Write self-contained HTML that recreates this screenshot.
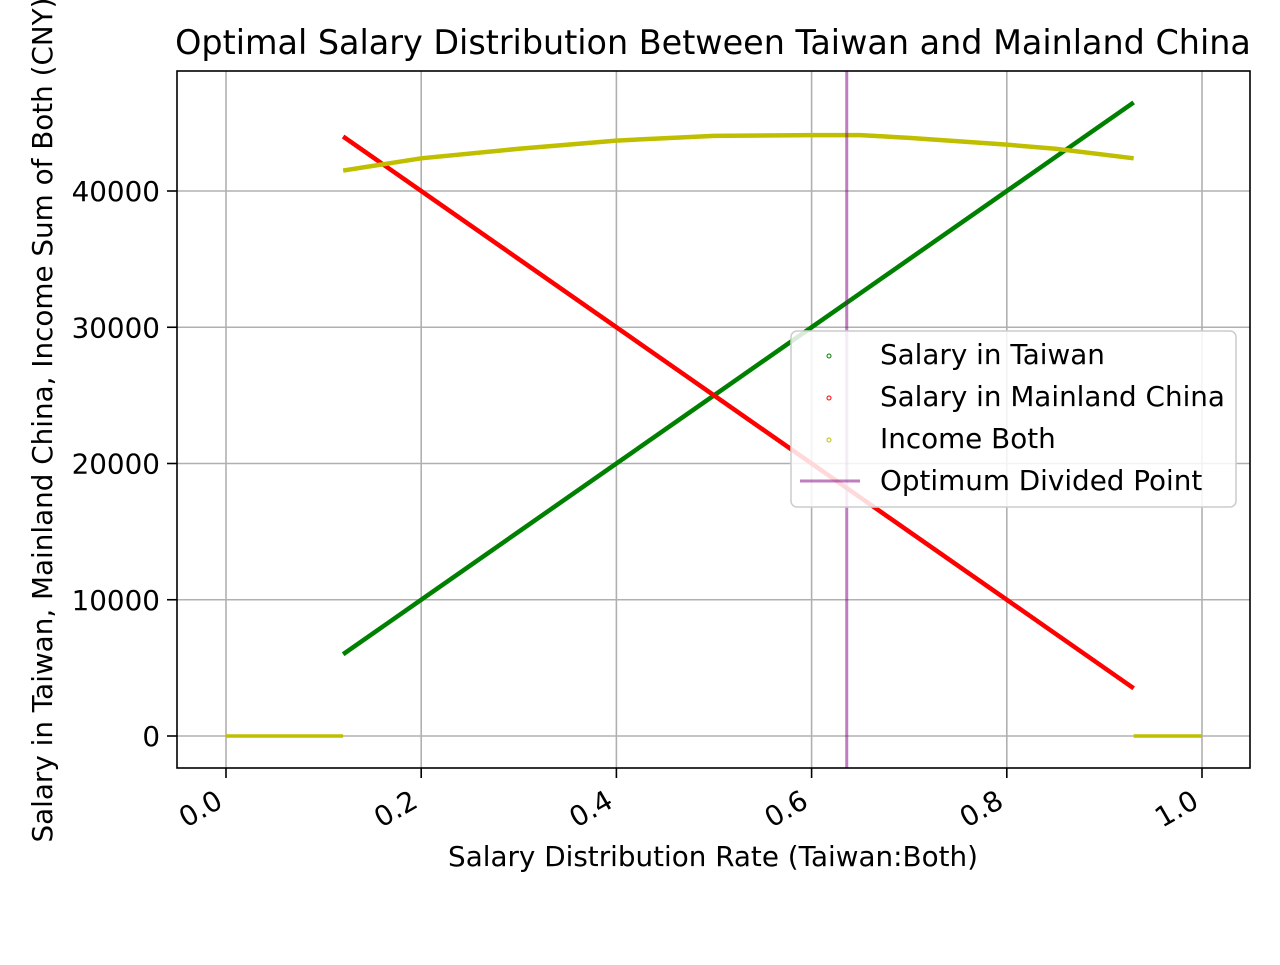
<!DOCTYPE html>
<html><head><meta charset="utf-8"><style>
body{margin:0;background:#fff}
svg text{font-family:"DejaVu Sans","Liberation Sans",sans-serif;fill:#000}
</style></head><body>
<svg id="chart" width="1280" height="960" xmlns="http://www.w3.org/2000/svg">
<rect width="1280" height="960" fill="#fff"/>
<g id="grid"></g>
<g id="marks"></g>
<rect x="177" y="71" width="1073" height="697" fill="none" stroke="#000" stroke-width="1.6"/>
<g id="ticks"></g>
<text x="713" y="54" font-size="33.4" text-anchor="middle">Optimal Salary Distribution Between Taiwan and Mainland China</text>
<text x="713" y="866" font-size="27.8" text-anchor="middle">Salary Distribution Rate (Taiwan:Both)</text>
<text transform="translate(52,420) rotate(-90)" font-size="27.8" text-anchor="middle">Salary in Taiwan, Mainland China, Income Sum of Both (CNY)</text>
<g>
<rect x="791" y="331" width="445" height="176" rx="6" fill="#fff" fill-opacity="0.85" stroke="#ccc" stroke-width="1.5"/>
<circle cx="829" cy="356" r="2" fill="none" stroke="green"/>
<text x="880" y="364" font-size="27.8">Salary in Taiwan</text>
<circle cx="829" cy="398" r="2" fill="none" stroke="red"/>
<text x="880" y="406" font-size="27.8">Salary in Mainland China</text>
<circle cx="829" cy="440" r="2" fill="none" stroke="#bfbf00"/>
<text x="880" y="448" font-size="27.8">Income Both</text>
<line x1="800" y1="481" x2="860" y2="481" stroke="purple" stroke-opacity="0.5" stroke-width="3"/>
<text x="880" y="490" font-size="27.8">Optimum Divided Point</text>
</g>
</svg>
<script>
const rates=[0.12,0.2,0.3,0.4,0.5,0.6,0.65,0.7,0.8,0.85,0.93];
const taiwan=[6000,10000,15000,20000,25000,30000,32500,35000,40000,42500,46500];
const mainland=[44000,40000,35000,30000,25000,20000,17500,15000,10000,7500,3500];
const income=[41500,42400,43100,43700,44050,44100,44100,43900,43400,43100,42400];
const zeroLeft=[0,0.12];
const zeroRight=[0.93,1.0];
const optimum=0.636;
const xTicks=[0,0.2,0.4,0.6,0.8,1.0];
const xTickLabels=["0.0","0.2","0.4","0.6","0.8","1.0"];
const yTicks=[0,10000,20000,30000,40000];
const NS="http://www.w3.org/2000/svg";
const X=v=>226+v*976, Y=v=>736-v*0.013625;
function mk(p,t,a){const e=document.createElementNS(NS,t);for(const k in a)e.setAttribute(k,a[k]);p.appendChild(e);return e;}
const grid=document.getElementById('grid'),marks=document.getElementById('marks'),ticks=document.getElementById('ticks');
xTicks.forEach((v,i)=>{
 const g=mk(grid,'line',{x1:X(v),x2:X(v),y1:71,y2:768,stroke:'#b0b0b0','stroke-width':1.6});
 
 
 mk(ticks,'line',{x1:X(v),x2:X(v),y1:768,y2:778,stroke:'#000','stroke-width':1.6});
 const t=mk(ticks,'text',{transform:`translate(${X(v)-12},${788}) rotate(-30)`,'font-size':27.8,'text-anchor':'end','dominant-baseline':'hanging'});
 t.textContent=xTickLabels[i];
 
 
});
yTicks.forEach(v=>{
 const g=mk(grid,'line',{x1:177,x2:1250,y1:Y(v),y2:Y(v),stroke:'#b0b0b0','stroke-width':1.6});
 
 
 mk(ticks,'line',{x1:167,x2:177,y1:Y(v),y2:Y(v),stroke:'#000','stroke-width':1.6});
 const t=mk(ticks,'text',{x:160,y:Y(v)+10,'font-size':27.8,'text-anchor':'end'});
 t.textContent=String(v);
 
 
});
function series(vals,color,name){
 const pts=rates.map((r,i)=>X(r)+','+Y(vals[i])).join(' ');
 const p=mk(marks,'polyline',{points:pts,fill:'none',stroke:color,'stroke-width':4.5});
 
 
}
series(taiwan,'green','series-taiwan');
series(mainland,'red','series-mainland');
series(income,'#bfbf00','series-income');
[zeroLeft,zeroRight].forEach(z=>{
 const p=mk(marks,'line',{x1:X(z[0]),x2:X(z[1]),y1:Y(0),y2:Y(0),stroke:'#bfbf00','stroke-width':3.5});
 
 
});
const o=mk(marks,'line',{x1:X(optimum),x2:X(optimum),y1:71,y2:768,stroke:'purple','stroke-opacity':0.5,'stroke-width':3});


</script>
</body></html>
